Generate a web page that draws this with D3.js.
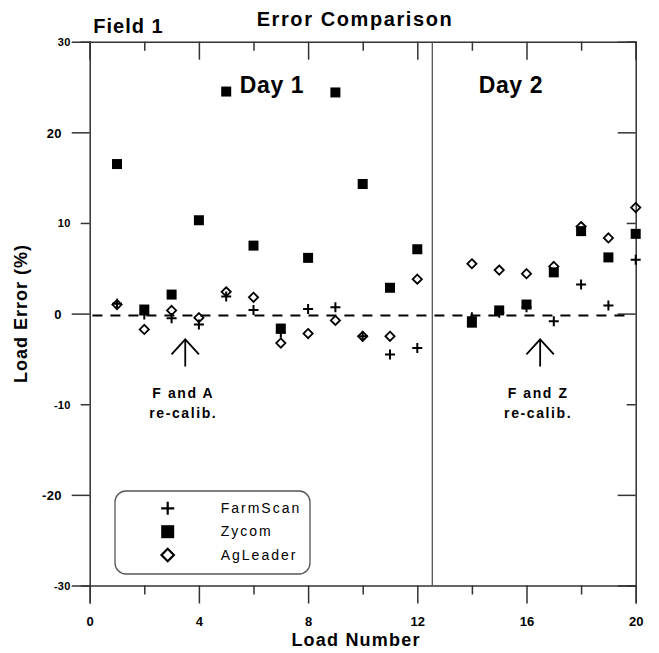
<!DOCTYPE html>
<html>
<head>
<meta charset="utf-8">
<script src="https://cdn.jsdelivr.net/npm/d3@7"></script>
<style>
  html, body { margin: 0; padding: 0; background: #fff; }
  svg { display: block; }
  text { font-family: "Liberation Sans", Arial, Helvetica, sans-serif; fill: #000; }
</style>
</head>
<body>
<svg id="chart" width="659" height="653"></svg>
<script>
// ---- data ----
const loads    = [1,2,3,4,5,6,7,8,9,10,11,12,14,15,16,17,18,19,20];
const farmScan = [1.1,-0.1,-0.5,-1.2,1.9,0.4,-2.1,0.5,0.7,-2.5,-4.5,-3.8,-0.4,0.1,0.7,-0.85,3.2,0.9,5.95];
const zycom    = [16.5,0.45,2.1,10.3,24.5,7.5,-1.65,6.15,24.4,14.3,2.85,7.1,-1.0,0.35,1.0,4.55,9.1,6.2,8.8];
const agLeader = [1.0,-1.75,0.35,-0.45,2.4,1.8,-3.25,-2.2,-0.75,-2.5,-2.5,3.8,5.5,4.8,4.4,5.2,9.6,8.35,11.7];
const xTicks = [0,2,4,6,8,10,12,14,16,18,20];
const yTicks = [-30,-20,-10,0,10,20,30];
const seriesNames = ["FarmScan","Zycom","AgLeader"];
const dayDivider = 12.55;
const zeroRef = -0.2;
const dayLabels = [{text:"Day 1", x:5.5}, {text:"Day 2", x:14.25}];
const notes = [{x:3.5, lines:["F and A","re-calib."]}, {x:16.5, lines:["F and Z","re-calib."]}];

// ---- layout ----
const svg = d3.select("#chart");
const x = d3.scaleLinear().domain([0,20]).range([89.7,635.7]);
const y = d3.scaleLinear().domain([-30,30]).range([585.5,41.7]);
const axisColor = "#333";
const isMajorX = d => d % 4 === 0;
const isMajorY = d => d % 20 === 0;

// plus / diamond paths
const plusPath = r => `M${-r},0L${r},0M0,${-r}L0,${r}`;
const diamondPath = r => `M0,${-r}L${r},0L0,${r}L${-r},0Z`;

// ---- axes ----
// bottom (outward ticks)
const gB = svg.append("g").attr("transform",`translate(0,${y(-30)})`)
  .call(d3.axisBottom(x).tickValues(xTicks).tickSize(18).tickFormat(d => isMajorX(d) ? d : ""));
gB.selectAll(".tick line").attr("y2", d => isMajorX(d) ? 18 : 9);
gB.selectAll(".tick text").attr("y", 40.5).attr("dy", 0)
  .style("font-size","13px").style("font-weight","bold");
// top (inward ticks)
const gT = svg.append("g").attr("transform",`translate(0,${y(30)})`)
  .call(d3.axisTop(x).tickValues(xTicks).tickSize(-18).tickFormat(""));
gT.selectAll(".tick line").attr("y2", d => isMajorX(d) ? 18 : 9);
// left (outward ticks)
const gL = svg.append("g").attr("transform",`translate(${x(0)},0)`)
  .call(d3.axisLeft(y).tickValues(yTicks).tickSize(18).tickFormat(d => d));
gL.selectAll(".tick line").attr("x2", d => isMajorY(d) ? -18 : -9);
gL.selectAll(".tick text")
  .attr("x", d => isMajorY(d) ? -28 : -19).attr("dy","0.36em")
  .style("font-size", d => isMajorY(d) ? "13px" : "11px").style("font-weight","bold")
  .style("letter-spacing","0.3px");
// right (inward ticks)
const gR = svg.append("g").attr("transform",`translate(${x(20)},0)`)
  .call(d3.axisRight(y).tickValues(yTicks).tickSize(-18).tickFormat(""));
gR.selectAll(".tick line").attr("x2", d => isMajorY(d) ? -18 : -9);

[gB,gT,gL,gR].forEach(g => {
  g.select(".domain").attr("stroke", axisColor).attr("stroke-width",1.5);
  g.selectAll(".tick line").attr("stroke", axisColor).attr("stroke-width",1.5);
  g.selectAll(".tick text").attr("fill","#000");
});

// day divider
svg.append("line")
  .attr("x1", x(dayDivider)).attr("x2", x(dayDivider))
  .attr("y1", y(30)).attr("y2", y(-30))
  .attr("stroke","#555").attr("stroke-width",1.3);

// zero reference dashed line
svg.append("line")
  .attr("x1", x(0.1)).attr("x2", x(19.8))
  .attr("y1", y(zeroRef)).attr("y2", y(zeroRef))
  .attr("stroke","#000").attr("stroke-width",2).attr("stroke-dasharray","10,8");

// ---- marks ----
const agData = loads.map((l,i) => ({x:l, v:agLeader[i]}));
const zyData = loads.map((l,i) => ({x:l, v:zycom[i]}));
const fsData = loads.map((l,i) => ({x:l, v:farmScan[i]}));

svg.append("g").selectAll("path").data(agData).join("path")
  .attr("transform", d => `translate(${x(d.x)},${y(d.v)})`)
  .attr("d", diamondPath(4.6)).attr("fill","none").attr("stroke","#000").attr("stroke-width",1.8);
svg.append("g").selectAll("rect").data(zyData).join("rect")
  .attr("x", d => x(d.x) - 5).attr("y", d => y(d.v) - 5)
  .attr("width",10).attr("height",10).attr("fill","#000");
svg.append("g").selectAll("path").data(fsData).join("path")
  .attr("transform", d => `translate(${x(d.x)},${y(d.v)})`)
  .attr("d", plusPath(5)).attr("stroke","#000").attr("stroke-width",2);

// ---- day labels ----
svg.append("g").selectAll("text").data(dayLabels).join("text")
  .attr("x", d => x(d.x)).attr("y", y(24.3))
  .style("font-size","23px").style("font-weight","bold").style("letter-spacing","0.6px")
  .text(d => d.text);

// ---- recalibration notes ----
const gN = svg.append("g");
notes.forEach(n => {
  const ax = x(n.x);
  const tip = y(-2.85), base = y(-5.85);
  gN.append("path")
    .attr("d", `M${ax},${base}L${ax},${tip}M${ax-13.7},${tip+15}L${ax},${tip}L${ax+13.7},${tip+15}`)
    .attr("fill","none").attr("stroke","#000").attr("stroke-width",1.8);
  n.lines.forEach((t,i) => {
    gN.append("text")
      .attr("x", ax - 2).attr("y", 398.3 + i*20)
      .attr("text-anchor","middle")
      .style("font-size","14px").style("font-weight","bold").style("letter-spacing","1.6px")
      .text(t);
  });
});

// ---- legend ----
const lg = svg.append("g");
lg.append("rect").attr("x",115).attr("y",491).attr("width",195).attr("height",83)
  .attr("rx",11).attr("ry",11).attr("fill","#fff").attr("stroke","#555").attr("stroke-width",1.3);
const rowY = [508.3, 531.7, 555];
seriesNames.forEach((name,i) => {
  const cy = rowY[i], cx = 167.7;
  if (i === 0) {
    lg.append("path").attr("transform",`translate(${cx},${cy})`).attr("d", plusPath(6.5))
      .attr("stroke","#000").attr("stroke-width",2.2);
  } else if (i === 1) {
    lg.append("rect").attr("x",cx-6.5).attr("y",cy-6.5).attr("width",13).attr("height",13).attr("fill","#000");
  } else {
    lg.append("path").attr("transform",`translate(${cx},${cy})`).attr("d", diamondPath(6.2))
      .attr("fill","none").attr("stroke","#000").attr("stroke-width",2.2);
  }
  lg.append("text").attr("x",220.7).attr("y", cy + 4.5)
    .style("font-size","14px").style("letter-spacing","2px").text(name);
});

// ---- titles ----
svg.append("text").attr("x",355).attr("y",26).attr("text-anchor","middle")
  .style("font-size","20px").style("font-weight","bold").style("letter-spacing","1.6px")
  .text("Error Comparison");
svg.append("text").attr("x",93.3).attr("y",33.3)
  .style("font-size","20px").style("font-weight","bold").style("letter-spacing","1px")
  .text("Field 1");
svg.append("text").attr("x",356).attr("y",646).attr("text-anchor","middle")
  .style("font-size","18px").style("font-weight","bold").style("letter-spacing","1.2px")
  .text("Load Number");
svg.append("text").attr("transform",`translate(26.7,${y(0)}) rotate(-90)`).attr("text-anchor","middle")
  .style("font-size","18px").style("font-weight","bold").style("letter-spacing","1px")
  .text("Load Error (%)");
</script>
</body>
</html>
